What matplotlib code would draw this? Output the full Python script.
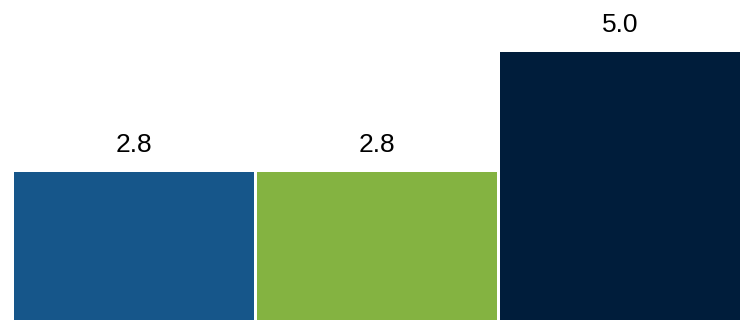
import matplotlib
matplotlib.use("Agg")
from matplotlib import pyplot as plt

categories = ["A", "B", "C"]
values = [2.8, 2.8, 5.0]
colors = ["#16568A", "#84B341", "#001D3B"]

fig = plt.figure(figsize=(7.43, 3.2), dpi=100)
ax = fig.add_axes([0, 0, 1, 1])

positions = range(len(categories))
ax.bar(positions, values, width=0.99, color=colors, edgecolor="none")

for x, v in zip(positions, values):
    ax.annotate(
        f"{v:.1f}",
        xy=(x, v),
        xytext=(0, 14.5),
        textcoords="offset points",
        ha="center",
        va="baseline",
        fontsize=19,
        family=["Liberation Sans Narrow", "Liberation Sans", "DejaVu Sans"],
        color="black",
    )

ax.set_xlim(-0.551, 2.506)
ax.set_ylim(0.09, 5.96)
ax.set_axis_off()

fig.savefig("out.png", dpi=100)
